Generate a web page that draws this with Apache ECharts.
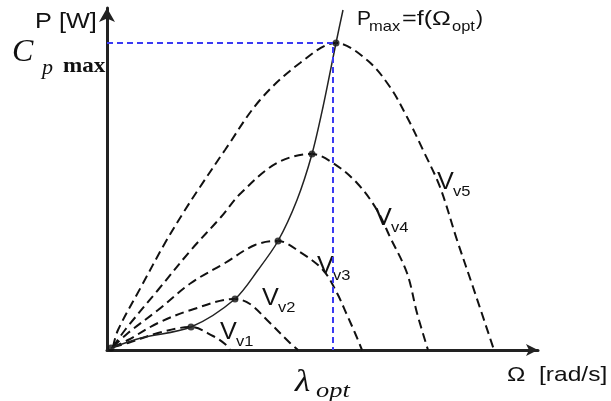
<!DOCTYPE html>
<html>
<head>
<meta charset="utf-8">
<script src="https://cdn.jsdelivr.net/npm/echarts@6/dist/echarts.min.js"></script>
<style>
  html, body { margin: 0; background: #fff; }
  #chart { width: 611px; height: 401px; }
</style>
</head>
<body>
<div id="chart"></div>
<script>
// Power curves P(Omega) for five wind speeds (axis units)
const curveV1 = [[6, 3], [21, 7], [51, 17], [84, 23], [106, 14], [118, 6], [123, 0]];
const curveV2 = [[6, 3], [21, 10], [51, 27], [84, 40], [128, 51], [143, 46], [160, 30], [183, 7], [191, 0]];
const curveV3 = [[6, 3], [21, 17], [51, 40], [84, 67], [118, 87], [148, 105], [171, 109], [193, 98], [216, 80], [230, 57], [240, 35], [248, 17], [255, 0]];
const curveV4 = [[6, 3], [18, 20], [51, 60], [84, 100], [114, 133], [134, 157], [170, 187], [205, 196], [226, 187], [250, 167], [270, 140], [283, 113], [300, 77], [310, 37], [321, 0]];
const curveV5 = [[6, 3], [11, 20], [34, 63], [58, 107], [78, 140], [91, 160], [118, 200], [153, 250], [193, 287], [229, 307], [260, 290], [283, 263], [300, 233], [316, 200], [333, 163], [350, 110], [366, 63], [387, 0]];
const curves = [curveV1, curveV2, curveV3, curveV4, curveV5];

// Pmax = f(Omega_opt) locus through the peaks
const pmaxLocus = [[4, 2], [34, 12], [84, 23], [128, 51], [151, 80], [171, 109], [190, 150], [205, 196], [216, 243], [229, 307], [236, 340]];
const peakX = [4, 84, 128, 171, 205, 229];
const peakY = [2, 23, 51, 109, 196, 307];

// lambda_opt / Cp max guide
const optX = 226;
const cpMaxY = 307;

const chart = echarts.init(document.getElementById('chart'));

const sans = 'Liberation Sans, Arial, sans-serif';
const serif = 'Liberation Serif, Times New Roman, serif';

// the scanned labels are a bit wider than the font, hence sx
function txt(x, y, text, font, sx) {
  return {
    type: 'text', x: x, y: y, scaleX: sx || 1, silent: true,
    style: { text: text, font: font, fill: '#111', verticalAlign: 'middle' }
  };
}

const vLabels = [[220, 332], [262, 298], [317, 266], [375, 218], [437, 182]];
const labelGraphics = [];
vLabels.forEach((p, i) => {
  labelGraphics.push(txt(p[0], p[1], 'V', '24px ' + sans, 1.05));
  labelGraphics.push(txt(p[0] + 16, p[1] + 10, 'v' + (i + 1), '15px ' + sans, 1.1));
});

const option = {
  animation: false,
  grid: { left: 107, right: 73, top: 8, bottom: 51 },
  xAxis: {
    type: 'value', min: 0, max: 431,
    axisLine: { show: true, symbol: ['none', 'arrow'], symbolSize: [9, 12], lineStyle: { color: '#222', width: 3 } },
    axisTick: { show: false }, axisLabel: { show: false }, splitLine: { show: false }
  },
  yAxis: {
    type: 'value', min: 0, max: 342,
    axisLine: { show: true, symbol: ['none', 'arrow'], symbolSize: [12, 14], lineStyle: { color: '#222', width: 3 } },
    axisTick: { show: false }, axisLabel: { show: false }, splitLine: { show: false }
  },
  series: [
    ...curves.map(c => ({
      type: 'line', data: c, smooth: 0.35, showSymbol: false, silent: true,
      lineStyle: { color: '#111', width: 2, type: [9, 5] }
    })),
    {
      type: 'line', data: pmaxLocus, smooth: 0.3, showSymbol: false, silent: true, clip: false,
      lineStyle: { color: '#222', width: 1.5 }
    },
    {
      type: 'line', data: [[0, cpMaxY], [optX, cpMaxY], [optX, 0]], showSymbol: false, silent: true,
      lineStyle: { color: '#3a3af2', width: 2, type: [6, 4] }
    },
    {
      type: 'scatter', data: peakX.map((x, i) => [x, peakY[i]]), symbolSize: 7, silent: true,
      itemStyle: { color: '#111' }
    }
  ],
  graphic: [
    txt(35, 22, 'P [W]', '22px ' + sans, 1.15),
    txt(12, 53, 'C', 'italic 32px ' + serif),
    txt(42, 68, 'p', 'italic 22px ' + serif),
    txt(63, 67, 'max', 'bold 21px ' + serif, 1.1),
    txt(357, 19, 'P', '21px ' + sans, 1.0),
    txt(369, 27, 'max', '15px ' + sans, 1.1),
    txt(402, 19, '=f(Ω', '21px ' + sans, 1.2),
    txt(452, 27, 'opt', '15px ' + sans, 1.1),
    txt(476, 19, ')', '21px ' + sans),
    txt(507, 375, 'Ω  [rad/s]', '21px ' + sans, 1.17),
    txt(295, 383, 'λ', 'italic 32px ' + serif, 1.1),
    txt(316, 391, 'opt', 'italic 22px ' + serif, 1.2),
    ...labelGraphics
  ]
};

chart.setOption(option);
</script>
</body>
</html>
